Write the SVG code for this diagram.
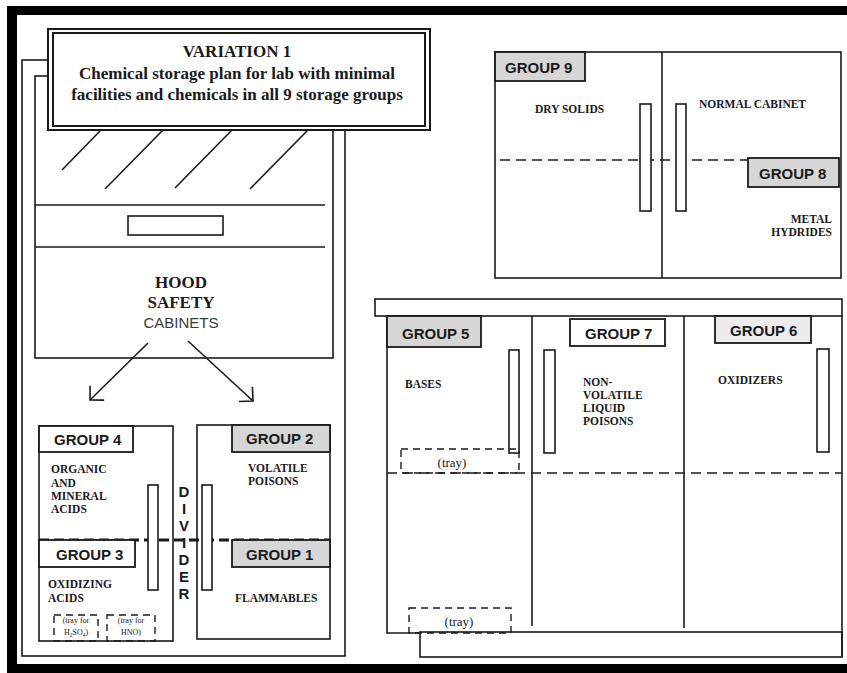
<svg xmlns="http://www.w3.org/2000/svg" width="847" height="673" viewBox="0 0 847 673">
<style>
.ln{fill:none;stroke:#1a1a1a;stroke-width:1.6}
.box{fill:#fff;stroke:#1a1a1a;stroke-width:1.6}
.gw{fill:#fff;stroke:#1a1a1a;stroke-width:1.8}
.gg{fill:#d6d6d6;stroke:#1a1a1a;stroke-width:1.8}
.gl{fill:#ececec;stroke:#1a1a1a;stroke-width:1.8}
.dash{fill:none;stroke:#1a1a1a;stroke-width:1.6;stroke-dasharray:10 6}
.dashT{fill:none;stroke:#1a1a1a;stroke-width:3;stroke-dasharray:10 5}
.tray{fill:none;stroke:#1a1a1a;stroke-width:1.4;stroke-dasharray:7 5}
.gt{font-family:"Liberation Sans",Arial,sans-serif;font-weight:bold;font-size:15px;fill:#1a1a1a}
.lb{font-family:"Liberation Serif","Times New Roman",serif;font-weight:bold;font-size:11.5px;fill:#1a1a1a}
.tt{font-family:"Liberation Serif","Times New Roman",serif;font-weight:bold;font-size:17px;fill:#1a1a1a;text-anchor:middle}
.sm{font-family:"Liberation Serif","Times New Roman",serif;font-size:13px;fill:#1a1a1a;text-anchor:middle}
.xs{font-family:"Liberation Serif","Times New Roman",serif;font-size:8px;fill:#1a1a1a;text-anchor:middle}
.dv{font-family:"Liberation Sans",Arial,sans-serif;font-weight:bold;font-size:15px;fill:#1a1a1a;text-anchor:middle}
</style>
<defs>
<marker id="ah" markerUnits="userSpaceOnUse" markerWidth="24" markerHeight="24" refX="0" refY="0" viewBox="-12 -12 24 24" orient="auto" overflow="visible">
<path d="M -10,-10 L 0,0 L -10,10" fill="none" stroke="#1a1a1a" stroke-width="1.6"/>
</marker>
</defs>
<rect width="847" height="673" fill="#fff"/>

<g id="frame">
<rect x="7" y="6" width="840" height="9" fill="#000"/>
<rect x="7" y="6" width="10" height="667" fill="#000"/>
<rect x="7" y="664" width="840" height="9" fill="#000"/>
</g>

<g id="hood">
<rect class="ln" x="22" y="60" width="323" height="596"/>
<rect class="ln" x="35" y="76" width="298" height="282"/>
<line class="ln" x1="62" y1="170" x2="100" y2="131"/>
<line class="ln" x1="105" y1="189" x2="163" y2="130"/>
<line class="ln" x1="175" y1="188" x2="232" y2="130"/>
<line class="ln" x1="250" y1="189" x2="307" y2="131"/>
<line class="ln" x1="35" y1="205" x2="325" y2="205"/>
<line class="ln" x1="35" y1="247" x2="325" y2="247"/>
<rect class="box" x="128" y="216" width="95" height="19"/>
<text class="tt" x="181" y="288">HOOD</text>
<text class="tt" x="181" y="308">SAFETY</text>
<text x="181" y="328" text-anchor="middle" style="font-family:'Liberation Sans',Arial,sans-serif;font-size:15px;fill:#3a3a3a">CABINETS</text>
</g>

<g id="title">
<rect x="48" y="29" width="382" height="101" fill="#fff" stroke="#1a1a1a" stroke-width="2"/>
<rect x="53" y="33" width="372" height="93" fill="#fff" stroke="#1a1a1a" stroke-width="2"/>
<text class="tt" x="237" y="57">VARIATION 1</text>
<text class="tt" x="237" y="79">Chemical storage plan for lab with minimal</text>
<text class="tt" x="237" y="100">facilities and chemicals in all 9 storage groups</text>
</g>

<g id="connectors">
<line class="ln" x1="148" y1="343" x2="90" y2="400" marker-end="url(#ah)"/>
<line class="ln" x1="188" y1="341" x2="253" y2="401" marker-end="url(#ah)"/>
</g>

<g id="cabinet-left">
<rect class="ln" x="39" y="426" width="134" height="215"/>
<rect class="ln" x="197" y="425" width="133" height="214"/>
<line class="dashT" x1="39" y1="540" x2="330" y2="540"/>
<rect class="box" x="148" y="485" width="10" height="105"/>
<rect class="box" x="202" y="485" width="10" height="105"/>
</g>

<g id="divider">
<text class="dv" x="184" y="497">D</text>
<text class="dv" x="184" y="514">I</text>
<text class="dv" x="184" y="531">V</text>
<text class="dv" x="184" y="548">I</text>
<text class="dv" x="184" y="565">D</text>
<text class="dv" x="184" y="582">E</text>
<text class="dv" x="184" y="599">R</text>
</g>

<g id="group4">
<rect class="gw" x="39" y="426" width="94" height="26"/>
<text class="gt" x="54" y="445">GROUP 4</text>
<text class="lb" x="51" y="473">ORGANIC</text>
<text class="lb" x="51" y="487">AND</text>
<text class="lb" x="51" y="500">MINERAL</text>
<text class="lb" x="51" y="513">ACIDS</text>
</g>

<g id="group3">
<rect class="gw" x="39" y="540" width="96" height="27"/>
<text class="gt" x="56" y="560">GROUP 3</text>
<text class="lb" x="48" y="588">OXIDIZING</text>
<text class="lb" x="48" y="602">ACIDS</text>
<rect class="tray" x="54" y="615" width="44" height="26"/>
<text class="xs" x="76" y="623">(tray for</text>
<text class="xs" x="76" y="635">H<tspan font-size="5.5" dy="1.5">2</tspan><tspan dy="-1.5">SO</tspan><tspan font-size="5.5" dy="1.5">4</tspan><tspan dy="-1.5">)</tspan></text>
<rect class="tray" x="107" y="615" width="48" height="26"/>
<text class="xs" x="131" y="623">(tray for</text>
<text class="xs" x="131" y="635">HNO)</text>
</g>

<g id="group2">
<rect class="gg" x="232" y="425" width="98" height="27"/>
<text class="gt" x="246" y="444">GROUP 2</text>
<text class="lb" x="248" y="472">VOLATILE</text>
<text class="lb" x="248" y="485">POISONS</text>
</g>

<g id="group1">
<rect class="gg" x="232" y="540" width="98" height="27"/>
<text class="gt" x="246" y="560">GROUP 1</text>
<text class="lb" x="235" y="602">FLAMMABLES</text>
</g>

<g id="cabinet-top-right">
<rect class="ln" x="495" y="52" width="346" height="226"/>
<line class="ln" x1="662" y1="52" x2="662" y2="278"/>
<line class="dash" x1="500" y1="160" x2="748" y2="160"/>
<rect class="box" x="640" y="104" width="11" height="107"/>
<rect class="box" x="676" y="104" width="10" height="107"/>
</g>

<g id="group9">
<rect class="gg" x="495" y="52" width="90" height="29"/>
<text class="gt" x="505" y="73">GROUP 9</text>
<text class="lb" x="535" y="113">DRY SOLIDS</text>
</g>

<g id="group8">
<rect class="gg" x="748" y="158" width="91" height="29"/>
<text class="gt" x="759" y="179">GROUP 8</text>
<text class="lb" x="699" y="108">NORMAL CABINET</text>
<text class="lb" x="832" y="223" text-anchor="end">METAL</text>
<text class="lb" x="832" y="236" text-anchor="end">HYDRIDES</text>
</g>

<g id="cabinet-bottom-right">
<rect class="ln" x="375" y="299" width="467" height="17"/>
<polyline class="ln" points="387,316 387,633 420,633"/>
<line class="ln" x1="842" y1="316" x2="842" y2="657"/>
<rect class="ln" x="420" y="632" width="422" height="25"/>
<line class="ln" x1="532" y1="316" x2="532" y2="626"/>
<line class="ln" x1="684" y1="316" x2="684" y2="628"/>
<line class="dash" x1="387" y1="473" x2="842" y2="473"/>
<rect class="box" x="509" y="350" width="10" height="103"/>
<rect class="box" x="544" y="350" width="11" height="103"/>
<rect class="box" x="817" y="349" width="12" height="103"/>
</g>

<g id="group5">
<rect class="gg" x="387" y="316" width="94" height="31"/>
<text class="gt" x="402" y="339">GROUP 5</text>
<text class="lb" x="405" y="388">BASES</text>
<rect class="tray" x="401" y="449" width="118" height="24"/>
<text class="sm" x="452" y="467">(tray)</text>
<rect class="tray" x="409" y="608" width="102" height="25"/>
<text class="sm" x="459" y="626">(tray)</text>
</g>

<g id="group7">
<rect class="gw" x="570" y="319" width="95" height="27"/>
<text class="gt" x="585" y="339">GROUP 7</text>
<text class="lb" x="583" y="386">NON-</text>
<text class="lb" x="583" y="399">VOLATILE</text>
<text class="lb" x="583" y="412">LIQUID</text>
<text class="lb" x="583" y="425">POISONS</text>
</g>

<g id="group6">
<rect class="gl" x="715" y="316" width="96" height="27"/>
<text class="gt" x="730" y="336">GROUP 6</text>
<text class="lb" x="718" y="384">OXIDIZERS</text>
</g>
</svg>
